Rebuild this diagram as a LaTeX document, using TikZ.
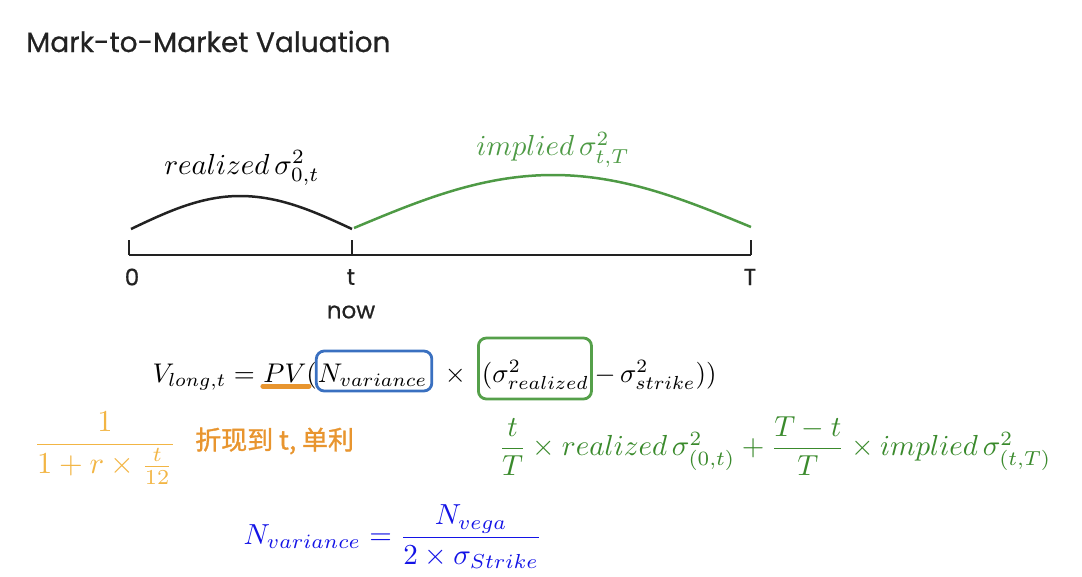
\documentclass[tikz,border=0pt]{standalone}
\usepackage{fontspec}
\usepackage{amsmath}
\usetikzlibrary{calc}
\newfontfamily\titlefont{Poppins}[FakeBold=0.6]
\newfontfamily\cjk{Noto Sans CJK SC}[FakeBold=1.2]
\definecolor{inkc}{HTML}{222222}
\definecolor{impgreen}{HTML}{4E9A45}
\definecolor{frmgreen}{HTML}{3A8A2C}
\definecolor{boxgreen}{HTML}{55A04A}
\definecolor{boxblue}{HTML}{3A70C0}
\definecolor{orl}{HTML}{F2B544}
\definecolor{ord}{HTML}{E8952F}
\definecolor{nblue}{HTML}{1414E6}
\tikzset{
  eq/.style={inner sep=0pt, scale=2.9},
  eqm/.style={inner sep=0pt, scale=2.7},
  lbl/.style={inner sep=0pt, font=\titlefont\fontsize{23}{26}\selectfont, text=inkc},
  axis/.style={draw=inkc, line width=2.5pt},
  boxed/.style={line width=2.8pt, rounded corners=8pt},
}
\begin{document}
\begin{tikzpicture}[x=1pt,y=-1pt]
\useasboundingbox (0,0) rectangle (1082,576);
% title
\node[inner sep=0pt, anchor=base west, font=\titlefont\fontsize{28}{32}\selectfont, text=inkc] (title) at (26,52) {Mark-to-Market Valuation};
% timeline
\coordinate (p0) at (129,255);
\coordinate (pt) at (352,255);
\coordinate (pT) at (751,255);
\draw[axis] (p0) -- (pT);
\draw[axis] (p0) -- ++(0,-15);
\draw[axis] (pt) -- ++(0,-15);
\draw[axis] (pT) -- ++(0,-15);
\node[lbl] (l0) at (132,277) {0};
\node[lbl] (lt) at (351,277) {t};
\node[lbl] (lT) at (750,277) {T};
\node[lbl] (lnow) at (351,312) {now};
% curves
\coordinate (c0) at (131,229);
\coordinate (c1) at (240,196);
\coordinate (c2) at (352,229);
\coordinate (g0) at (354,228);
\coordinate (g1) at (553,175);
\coordinate (g2) at (751,227);
\draw[inkc, line width=2.5pt] (c0) sin (c1) cos (c2);
\draw[impgreen, line width=2.5pt] (g0) sin (g1) cos (g2);
\node[eq, text=black] (realized) at (242,168) {$realized\,\sigma^2_{0,t}$};
\node[eq, text=impgreen] (implied) at (553,150) {$implied\,\sigma^2_{t,T}$};
% main equation
\node[eqm, anchor=base west] (n1) at (152,382) {$V_{long,t}={}$};
\node[eqm, anchor=base west] (n2) at (n1.base east) {$\underline{PV}($};
\node[eqm, anchor=base west] (n3) at (n2.base east) {$N_{variance}$};
\node[eqm, anchor=base west] (n4) at (n3.base east) {${}\mkern7mu\times\mkern6mu{}$};
\node[eqm, anchor=base west] (n5) at (n4.base east) {$(\sigma^2_{realized}$};
\node[eqm, anchor=base west] (n6) at (n5.base east) {$\mkern3mu-\mkern3mu\sigma^2_{strike}))$};
\draw[boxed, boxblue] ($(n3.base west)+(-1,-31)$) rectangle ($(n3.base east)+(4,9)$);
\draw[boxed, boxgreen] ($(n5.base west)+(-3,-44)$) rectangle ($(n5.base east)+(2,17)$);
\draw[ord, line width=5pt, line cap=round] ($(n2.base west)+(0,4)$) -- ($(n2.base west)+(46,4)$);
% discount
\node[eq, scale=1.05, text=orl] (disc) at (105,448) {$\dfrac{1}{1+r\times\frac{t}{12}}$};
\node[inner sep=0pt, anchor=west, font=\cjk\fontsize{26}{29}\selectfont, text=ord] (disctxt) at (195,441) {折现到 t, 单利};
% blended variance
\node[eq, text=frmgreen] (blend) at (775,446) {$\dfrac{t}{T}\times realized\,\sigma^2_{(0,t)}+\dfrac{T-t}{T}\times implied\,\sigma^2_{(t,T)}$};
% N variance
\node[eq, text=nblue] (nvar) at (393,537) {$N_{variance}=\dfrac{N_{vega}}{2\times\sigma_{Strike}}$};
\end{tikzpicture}
\end{document}
